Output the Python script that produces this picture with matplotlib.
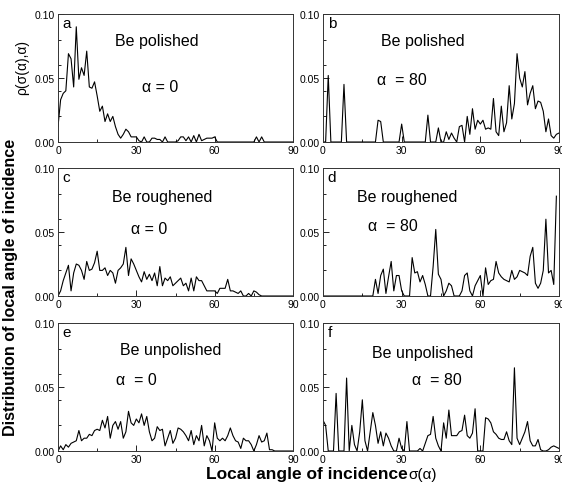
import numpy as np
import matplotlib
matplotlib.use("Agg")
import matplotlib.pyplot as plt
from matplotlib.ticker import MultipleLocator

plt.rcParams['font.family'] = ['Liberation Sans', 'DejaVu Sans']

angles = list(range(0, 91))

polished_0 = [
    0.012, 0.033, 0.038, 0.040, 0.069, 0.065, 0.043, 0.090, 0.049, 0.058,
    0.052, 0.071, 0.043, 0.042, 0.047, 0.036, 0.024, 0.028, 0.016, 0.022,
    0.016, 0.020, 0.012, 0.006, 0.003, 0.006, 0.010, 0.008, 0.004, 0.004,
    0.004, 0.001, 0.000, 0.004, 0.000, 0.000, 0.003, 0.003, 0.002, 0.002,
    0.000, 0.004, 0.000, 0.000, 0.000, 0.000, 0.001, 0.004, 0.004, 0.001,
    0.004, 0.000, 0.005, 0.000, 0.006, 0.001, 0.002, 0.003, 0.003, 0.003,
    0.004, 0.000, 0.000, 0.000, 0.000, 0.000, 0.000, 0.000, 0.000, 0.000,
    0.000, 0.000, 0.000, 0.000, 0.000, 0.000, 0.004, 0.000, 0.004, 0.000,
    0.000, 0.000, 0.000, 0.000, 0.000, 0.000, 0.000, 0.000, 0.000, 0.000, 0.000,
]
polished_80 = [
    0.000, 0.000, 0.052, 0.000, 0.000, 0.000, 0.000, 0.000, 0.045, 0.000,
    0.000, 0.000, 0.000, 0.000, 0.000, 0.000, 0.000, 0.000, 0.000, 0.000,
    0.000, 0.017, 0.016, 0.000, 0.000, 0.000, 0.000, 0.000, 0.000, 0.000,
    0.014, 0.000, 0.000, 0.000, 0.000, 0.000, 0.000, 0.000, 0.000, 0.000,
    0.021, 0.000, 0.000, 0.000, 0.011, 0.000, 0.000, 0.008, 0.002, 0.007,
    0.003, 0.000, 0.012, 0.013, 0.000, 0.020, 0.006, 0.026, 0.010, 0.017,
    0.014, 0.017, 0.010, 0.011, 0.010, 0.034, 0.008, 0.005, 0.028, 0.008,
    0.015, 0.044, 0.018, 0.030, 0.069, 0.050, 0.043, 0.055, 0.029, 0.038,
    0.044, 0.026, 0.032, 0.031, 0.024, 0.008, 0.018, 0.005, 0.003, 0.006, 0.007,
]
roughened_0 = [
    0.000, 0.004, 0.012, 0.018, 0.024, 0.004, 0.018, 0.025, 0.024, 0.020,
    0.013, 0.027, 0.020, 0.021, 0.026, 0.035, 0.020, 0.020, 0.022, 0.016,
    0.020, 0.018, 0.010, 0.020, 0.022, 0.025, 0.038, 0.016, 0.029, 0.025,
    0.020, 0.015, 0.011, 0.019, 0.013, 0.017, 0.012, 0.018, 0.008, 0.023,
    0.008, 0.014, 0.012, 0.015, 0.008, 0.010, 0.012, 0.014, 0.008, 0.010,
    0.004, 0.014, 0.004, 0.015, 0.012, 0.012, 0.008, 0.004, 0.004, 0.004,
    0.004, 0.002, 0.006, 0.006, 0.006, 0.013, 0.004, 0.004, 0.003, 0.002,
    0.004, 0.000, 0.000, 0.002, 0.000, 0.004, 0.003, 0.001, 0.000, 0.000,
    0.000, 0.000, 0.000, 0.000, 0.000, 0.000, 0.000, 0.000, 0.000, 0.000, 0.000,
]
roughened_80 = [
    0.000, 0.000, 0.000, 0.000, 0.000, 0.000, 0.000, 0.000, 0.000, 0.000,
    0.000, 0.000, 0.000, 0.000, 0.000, 0.000, 0.000, 0.000, 0.000, 0.000,
    0.013, 0.002, 0.016, 0.021, 0.002, 0.015, 0.027, 0.004, 0.016, 0.016,
    0.004, 0.000, 0.000, 0.000, 0.030, 0.018, 0.019, 0.011, 0.016, 0.009,
    0.000, 0.000, 0.023, 0.052, 0.017, 0.013, 0.000, 0.004, 0.010, 0.008,
    0.000, 0.000, 0.000, 0.004, 0.016, 0.018, 0.004, 0.000, 0.008, 0.012,
    0.016, 0.000, 0.022, 0.009, 0.012, 0.013, 0.027, 0.018, 0.015, 0.013,
    0.012, 0.011, 0.020, 0.013, 0.015, 0.020, 0.019, 0.018, 0.016, 0.031,
    0.038, 0.010, 0.006, 0.010, 0.020, 0.060, 0.018, 0.020, 0.009, 0.078, np.nan,
]
unpolished_0 = [
    0.000, 0.004, 0.001, 0.005, 0.003, 0.006, 0.007, 0.008, 0.016, 0.008,
    0.010, 0.010, 0.013, 0.012, 0.016, 0.017, 0.016, 0.024, 0.018, 0.027,
    0.010, 0.020, 0.023, 0.017, 0.023, 0.010, 0.015, 0.031, 0.022, 0.020,
    0.025, 0.022, 0.029, 0.020, 0.027, 0.015, 0.008, 0.010, 0.019, 0.016,
    0.017, 0.004, 0.010, 0.016, 0.006, 0.010, 0.018, 0.017, 0.015, 0.012,
    0.008, 0.016, 0.005, 0.012, 0.008, 0.020, 0.004, 0.012, 0.008, 0.000,
    0.022, 0.010, 0.008, 0.010, 0.008, 0.012, 0.018, 0.012, 0.008, 0.007,
    0.002, 0.010, 0.008, 0.008, 0.005, 0.000, 0.005, 0.012, 0.007, 0.008,
    0.014, 0.001, 0.001, 0.000, 0.000, 0.000, 0.000, 0.000, 0.000, 0.000, 0.000,
]
unpolished_80 = [
    0.024, 0.020, 0.000, 0.000, 0.000, 0.045, 0.000, 0.000, 0.000, 0.057,
    0.000, 0.020, 0.005, 0.000, 0.015, 0.040, 0.008, 0.000, 0.015, 0.030,
    0.020, 0.006, 0.015, 0.004, 0.014, 0.010, 0.004, 0.000, 0.000, 0.010,
    0.002, 0.000, 0.023, 0.000, 0.000, 0.000, 0.000, 0.002, 0.000, 0.006,
    0.012, 0.013, 0.027, 0.010, 0.004, 0.000, 0.022, 0.010, 0.032, 0.012,
    0.012, 0.012, 0.015, 0.016, 0.028, 0.012, 0.010, 0.014, 0.033, 0.000,
    0.000, 0.000, 0.026, 0.025, 0.022, 0.015, 0.013, 0.010, 0.009, 0.009,
    0.015, 0.008, 0.005, 0.065, 0.010, 0.005, 0.010, 0.015, 0.023, 0.008,
    0.004, 0.004, 0.009, 0.001, 0.000, 0.000, 0.001, 0.003, 0.004, 0.003, 0.002,
]

panel_letters = ['a', 'b', 'c', 'd', 'e', 'f']
surface_labels = ['Be polished', 'Be polished', 'Be roughened', 'Be roughened',
                  'Be unpolished', 'Be unpolished']
alpha_labels = ['α = 0', 'α  = 80', 'α = 0', 'α  = 80', 'α  = 0', 'α  = 80']
series = [polished_0, polished_80, roughened_0, roughened_80, unpolished_0, unpolished_80]

surf_pos = [(38, 0.079), (38, 0.079), (40, 0.078), (32, 0.078), (43, 0.079), (38, 0.077)]
alpha_pos = [(39, 0.043), (30, 0.049), (35, 0.053), (26.5, 0.055), (30, 0.056), (43.5, 0.056)]

fig = plt.figure(figsize=(5.62, 4.85), dpi=100)
W, H = 562, 485
lefts = [58, 323]
tops = [15, 169, 324]
pw = [235, 236]
ph = 128

for i in range(6):
    r, c = divmod(i, 2)
    x0 = lefts[c] / W
    y0 = 1 - (tops[r] + ph) / H
    ax = fig.add_axes([x0, y0, pw[c] / W, ph / H])
    ax.plot(angles, series[i], color='black', lw=0.8)
    ax.set_xlim(0, 90)
    ax.set_ylim(0, 0.10)
    ax.xaxis.set_major_locator(MultipleLocator(30))
    ax.xaxis.set_minor_locator(MultipleLocator(15))
    ax.set_yticks([0.0, 0.05, 0.10])
    ax.set_yticklabels(['0.00', '0.05', '0.10'])
    ax.yaxis.set_minor_locator(MultipleLocator(0.02))
    ax.tick_params(which='both', direction='in', labelsize=7.5, width=0.6, pad=2)
    ax.tick_params(which='major', length=4)
    ax.tick_params(which='minor', length=2.5)
    for s in ax.spines.values():
        s.set_linewidth(0.7)
        s.set_color('#333333')
    ax.text(0.02, 0.985, panel_letters[i], transform=ax.transAxes,
            ha='left', va='top', fontsize=11)
    ax.text(surf_pos[i][0], surf_pos[i][1], surface_labels[i], ha='center',
            va='center', fontsize=11.5)
    ax.text(alpha_pos[i][0], alpha_pos[i][1], alpha_labels[i], ha='center',
            va='center', fontsize=11.5)

fig.text(22 / W, 1 - 68 / H, 'ρ(σ(α),α)', rotation=90, ha='center', va='center',
         fontsize=10)
fig.text(11 / W, 1 - 287 / H, 'Distribution of local angle of incidence',
         rotation=90, ha='center', va='center', fontsize=11.6, fontweight='bold')
fig.text(408 / W, 1 - 475 / H, 'Local angle of incidence', ha='right',
         va='center', fontsize=12.5, fontweight='bold')
fig.text(408 / W, 1 - 475 / H, 'σ(α)', ha='left', va='center', fontsize=11)

fig.savefig('out.png', dpi=100)
